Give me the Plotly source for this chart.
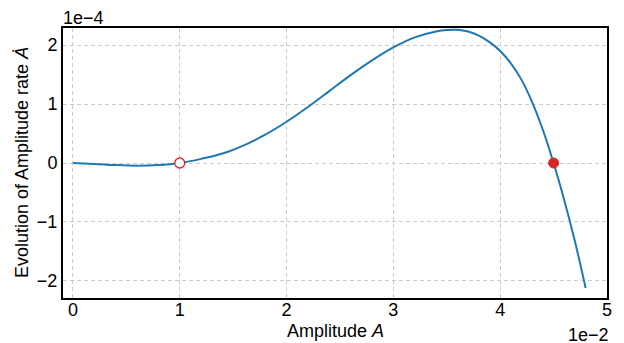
import plotly.graph_objects as go

# Amplitude A and rate dA/dt (rate listed in units of 1e-4)
amplitude = [0.000, 0.002, 0.004, 0.006, 0.008, 0.010, 0.012, 0.014, 0.016, 0.018,
             0.020, 0.022, 0.024, 0.026, 0.028, 0.030, 0.032, 0.034, 0.035, 0.036,
             0.037, 0.038, 0.039, 0.040, 0.041, 0.042, 0.043, 0.044, 0.045, 0.046,
             0.047, 0.048]
rate_e4 = [0.0, -0.015, -0.035, -0.045, -0.035, 0.0, 0.07, 0.16, 0.30, 0.48,
           0.70, 0.95, 1.22, 1.49, 1.74, 1.96, 2.13, 2.23, 2.255, 2.26,
           2.23, 2.16, 2.05, 1.90, 1.69, 1.41, 1.03, 0.56, 0.0, -0.63,
           -1.33, -2.12]
rate = [v * 1e-4 for v in rate_e4]

unstable_pt = (0.010, 0.0)
stable_pt = (0.045, 0.0)

xtick_vals = [0.0, 0.01, 0.02, 0.03, 0.04, 0.05]
xtick_text = ["0", "1", "2", "3", "4", "5"]
ytick_vals = [-2e-4, -1e-4, 0.0, 1e-4, 2e-4]
ytick_text = ["\u22122", "\u22121", "0", "1", "2"]

BLUE = "#1f77b4"
RED = "#d62728"
FONT = "Liberation Sans, Arial, sans-serif"
FS = 18

fig = go.Figure()
fig.add_trace(go.Scatter(x=amplitude, y=rate, mode="lines",
                         line=dict(color=BLUE, width=2, shape="spline", smoothing=1.0),
                         showlegend=False, hoverinfo="skip"))
fig.add_trace(go.Scatter(x=[unstable_pt[0]], y=[unstable_pt[1]], mode="markers",
                         marker=dict(size=10, color="white", line=dict(color=RED, width=1.3)),
                         showlegend=False))
fig.add_trace(go.Scatter(x=[stable_pt[0]], y=[stable_pt[1]], mode="markers",
                         marker=dict(size=10, color=RED, line=dict(color=RED, width=1)),
                         showlegend=False))

grid = dict(showgrid=True, gridcolor="#cccccc", griddash="4px,3px", gridwidth=1,
            zeroline=False, showline=True, linecolor="black", linewidth=2, mirror=True,
            ticks="", automargin=False, tickfont=dict(size=FS, color="black", family=FONT))

fig.update_xaxes(range=[-0.00093, 0.0500], tickvals=xtick_vals, ticktext=xtick_text,
                 ticklabelstandoff=-6, **grid)
fig.update_yaxes(range=[-2.29e-4, 2.29e-4], tickvals=ytick_vals, ticktext=ytick_text,
                 ticklabelstandoff=0, **grid)

txt = dict(color="black", family=FONT, size=FS)
fig.add_annotation(text="Amplitude <i>A</i>", xref="paper", yref="paper", x=0.5, y=0,
                   xanchor="center", yanchor="middle", yshift=-33, showarrow=False, font=txt)
fig.add_annotation(text="Evolution of Amplitude rate <i>\u0226</i>", xref="paper", yref="paper",
                   x=0, y=0.5, xanchor="center", yanchor="middle", xshift=-41,
                   textangle=-90, showarrow=False, font=txt)
fig.add_annotation(text="1e\u22124", xref="paper", yref="paper", x=0, y=1,
                   xanchor="left", yanchor="middle", yshift=10, xshift=-2, showarrow=False, font=txt)
fig.add_annotation(text="1e\u22122", xref="paper", yref="paper", x=1, y=0,
                   xanchor="right", yanchor="middle", yshift=-37, xshift=4, showarrow=False, font=txt)

# The page body adds an 8px offset, so the margins are shifted to compensate.
fig.update_layout(width=624, height=343, margin=dict(l=55, r=25, t=20, b=53),
                  plot_bgcolor="white", paper_bgcolor="white",
                  font=dict(family=FONT, color="black"))
fig.write_html("out.html")
